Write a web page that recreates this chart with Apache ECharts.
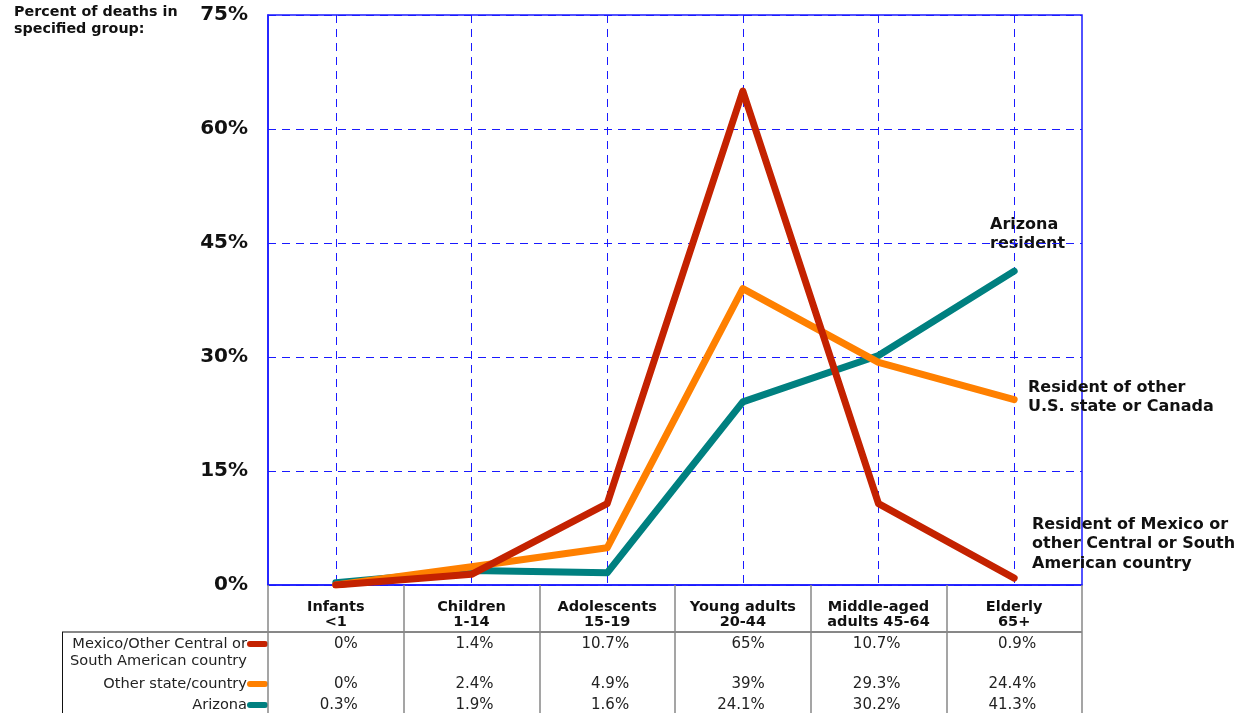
<!DOCTYPE html>
<html>
<head>
<meta charset="utf-8">
<style>
html,body{margin:0;padding:0;background:#fff;}
#chart{width:1253px;height:713px;}
</style>
<script src="https://cdn.jsdelivr.net/npm/echarts@6/dist/echarts.min.js"></script>
</head>
<body>
<div id="chart"></div>
<script>
// ---- data ----
var categories = ['Infants\n<1', 'Children\n1-14', 'Adolescents\n15-19', 'Young adults\n20-44', 'Middle-aged\nadults 45-64', 'Elderly\n65+'];
var mexico  = [0, 1.4, 10.7, 65, 10.7, 0.9];
var other   = [0, 2.4, 4.9, 39, 29.3, 24.4];
var arizona = [0.3, 1.9, 1.6, 24.1, 30.2, 41.3];
var yTicks = [0, 15, 30, 45, 60, 75];
var rowNames = ['Mexico/Other Central or\nSouth American country', 'Other state/country', 'Arizona'];
var annotations = ['Arizona\nresident', 'Resident of other\nU.S. state or Canada', 'Resident of Mexico or\nother Central or South\nAmerican country'];

var FONT = '"DejaVu Sans", Verdana, sans-serif';
var RED = '#c42200', ORANGE = '#ff8000', TEAL = '#008080', BLUE = '#1a1aff';

function fmt(v) { return v + '%'; }

function rowAxis(values, offset) {
  return {
    type: 'category', gridIndex: 0, position: 'bottom', offset: offset,
    data: values.map(fmt), boundaryGap: true,
    axisLine: { show: false, onZero: false }, axisTick: { show: false }, splitLine: { show: false },
    axisLabel: {
      interval: 0, margin: 0, fontFamily: FONT, fontSize: 15, color: '#222',
      formatter: function (v) { return '{v|' + v + '}'; },
      rich: { v: { width: 44, align: 'right', fontFamily: FONT, fontSize: 15, color: '#222', lineHeight: 16 } }
    }
  };
}

var chart = echarts.init(document.getElementById('chart'), null, { renderer: 'canvas' });
var option = {
  backgroundColor: '#fff',
  animation: false,
  grid: { left: 268, top: 15, right: 171, bottom: 128, show: true, borderColor: BLUE, borderWidth: 1.5, containLabel: false },
  xAxis: [
    {
      type: 'category', data: categories, boundaryGap: true, position: 'bottom',
      axisLine: { show: true, onZero: false, lineStyle: { color: BLUE, width: 1.5 } },
      axisTick: { show: true, interval: 0, length: 128, lineStyle: { color: '#888', width: 1.5 } },
      axisLabel: { interval: 0, margin: 14, fontFamily: FONT, fontSize: 14.5, fontWeight: 'bold', color: '#111', lineHeight: 15.5 },
      splitLine: { show: true, interval: 0, alignWithLabel: true, lineStyle: { color: BLUE, type: [8, 6], width: 1 } }
    },
    rowAxis(mexico, 51),
    rowAxis(other, 91),
    rowAxis(arizona, 112)
  ],
  yAxis: {
    type: 'value', min: 0, max: 75, interval: 15,
    axisLine: { show: true, lineStyle: { color: BLUE, width: 1.5 } },
    axisTick: { show: true, inside: true, length: 5, lineStyle: { color: BLUE } },
    axisLabel: { margin: 20, fontFamily: FONT, fontSize: 20, fontWeight: 'bold', color: '#111',
      formatter: function (v) { return yTicks.indexOf(v) >= 0 ? v + '%' : ''; } },
    splitLine: { show: true, lineStyle: { color: BLUE, type: [8, 6], width: 1 } }
  },
  series: [
    { name: 'Arizona', type: 'line', data: arizona, symbol: 'none', z: 3,
      lineStyle: { color: TEAL, width: 7, cap: 'round', join: 'round' } },
    { name: 'Other state/country', type: 'line', data: other, symbol: 'none', z: 4,
      lineStyle: { color: ORANGE, width: 7, cap: 'round', join: 'round' } },
    { name: 'Mexico/Other Central or South American country', type: 'line', data: mexico, symbol: 'none', z: 5,
      lineStyle: { color: RED, width: 7, cap: 'round', join: 'round' } }
  ],
  graphic: [
    { type: 'text', left: 14, top: 4, style: { text: 'Percent of deaths in\nspecified group:', fontFamily: FONT, fontSize: 14.3, fontWeight: 'bold', fill: '#111', lineHeight: 17 } },
    // table lines
    { type: 'line', shape: { x1: 62, y1: 632, x2: 1082, y2: 632 }, style: { stroke: '#111', lineWidth: 1 } },
    { type: 'line', shape: { x1: 62.5, y1: 632, x2: 62.5, y2: 713 }, style: { stroke: '#111', lineWidth: 1 } },
    // row labels
    { type: 'text', x: 247, y: 636, style: { text: rowNames[0], align: 'right', verticalAlign: 'top', fontFamily: FONT, fontSize: 14.6, fill: '#222', lineHeight: 17 } },
    { type: 'text', x: 247, y: 676, style: { text: rowNames[1], align: 'right', verticalAlign: 'top', fontFamily: FONT, fontSize: 14.6, fill: '#222', lineHeight: 16 } },
    { type: 'text', x: 247, y: 697, style: { text: rowNames[2], align: 'right', verticalAlign: 'top', fontFamily: FONT, fontSize: 14.6, fill: '#222', lineHeight: 16 } },
    // legend markers
    { type: 'line', shape: { x1: 250, y1: 644, x2: 265, y2: 644 }, style: { stroke: RED, lineWidth: 6, lineCap: 'round' } },
    { type: 'line', shape: { x1: 250, y1: 684, x2: 265, y2: 684 }, style: { stroke: ORANGE, lineWidth: 6, lineCap: 'round' } },
    { type: 'line', shape: { x1: 250, y1: 705, x2: 265, y2: 705 }, style: { stroke: TEAL, lineWidth: 6, lineCap: 'round' } },
    // annotations
    { type: 'text', x: 990, y: 216, style: { text: annotations[0], verticalAlign: 'top', fontFamily: FONT, fontSize: 16, fontWeight: 'bold', fill: '#111', lineHeight: 18.5 } },
    { type: 'text', x: 1028, y: 378, style: { text: annotations[1], verticalAlign: 'top', fontFamily: FONT, fontSize: 16, fontWeight: 'bold', fill: '#111', lineHeight: 19 } },
    { type: 'text', x: 1032, y: 515, style: { text: annotations[2], verticalAlign: 'top', fontFamily: FONT, fontSize: 16, fontWeight: 'bold', fill: '#111', lineHeight: 19.5 } }
  ]
};
chart.setOption(option);
</script>
</body>
</html>
